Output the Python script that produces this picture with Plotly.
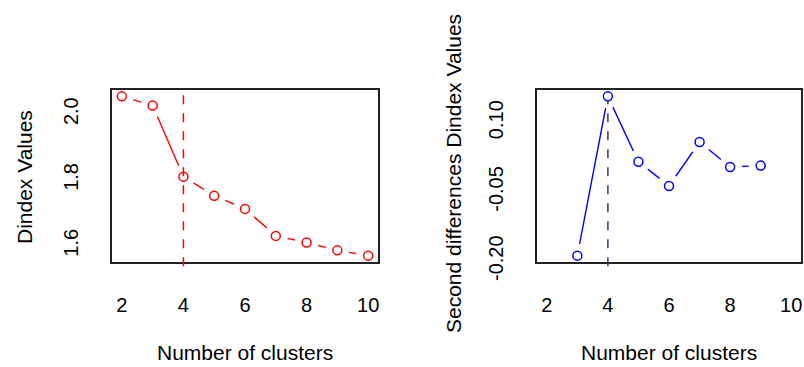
import plotly.graph_objects as go

# ---- data ----
clusters = [2, 3, 4, 5, 6, 7, 8, 9, 10]
dindex = [2.054, 2.026, 1.810, 1.752, 1.712, 1.630, 1.610, 1.586, 1.570]
clusters2 = [3, 4, 5, 6, 7, 8, 9]
second_diff = [-0.188, 0.157, 0.0155, -0.037, 0.058, 0.004, 0.007]
best_k = 4
best_k_value2 = 0.157

x_ticks = [2, 4, 6, 8, 10]
y1_ticks = [1.6, 1.8, 2.0]
y1_ticklabels = ["1.6", "1.8", "2.0"]
y2_ticks = [-0.20, -0.05, 0.10]
y2_ticklabels = ["-0.20", "-0.05", "0.10"]

x_title = "Number of clusters"
y1_title = "Dindex Values"
y2_title = "Second differences Dindex Values"

RED = "#FF0000"
BLUE = "#0000FF"
NAVY = "#2E3F5F"
FONT = "Liberation Sans, Arial, sans-serif"


def rrange(vals):
    lo, hi = min(vals), max(vals)
    pad = (hi - lo) * 0.04
    return [lo - pad, hi + pad]


xr = rrange(clusters)
y1r = rrange(dindex)
y2r = rrange(second_diff)

fig = go.Figure()


def add_b_series(xs, ys, color, xa, ya):
    fig.add_trace(go.Scatter(x=xs, y=ys, mode="lines", line=dict(color=color, width=1.4),
                             xaxis=xa, yaxis=ya, hoverinfo="skip", showlegend=False))
    fig.add_trace(go.Scatter(x=xs, y=ys, mode="markers",
                             marker=dict(symbol="circle", size=24, color="white",
                                         line=dict(width=0)),
                             xaxis=xa, yaxis=ya, hoverinfo="skip", showlegend=False))
    fig.add_trace(go.Scatter(x=xs, y=ys, mode="markers",
                             marker=dict(symbol="circle-open", size=9, color=color,
                                         line=dict(width=1.5, color=color)),
                             xaxis=xa, yaxis=ya, showlegend=False))


add_b_series(clusters, dindex, RED, "x", "y")
add_b_series(clusters2, second_diff, BLUE, "x2", "y2")

# vertical dashed reference lines
fx = (best_k - xr[0]) / (xr[1] - xr[0])
fig.add_shape(type="line", xref="x domain", yref="y domain", x0=fx, x1=fx, y0=-0.025, y1=1,
              line=dict(color=RED, width=1.5, dash="dash"), layer="above")
fy2 = (best_k_value2 - y2r[0]) / (y2r[1] - y2r[0])
fig.add_shape(type="line", xref="x2 domain", yref="y2 domain", x0=fx, x1=fx, y0=-0.025, y1=fy2 - 0.025,
              line=dict(color=NAVY, width=1.5, dash="dash"), layer="above")

W, H = 804, 367
dom_y = [(H - 262) / H, (H - 90) / H]
dom_x1 = [112 / W, 378 / W]
dom_x2 = [537 / W, 801 / W]

axis_common = dict(showgrid=False, zeroline=False, showline=True, mirror=True,
                   linecolor="#222222", linewidth=1.6, ticks="", automargin=False,
                   tickfont=dict(family=FONT, size=20, color="black"))

fig.update_layout(
    template="none",
    width=W, height=H,
    margin=dict(l=0, r=0, t=0, b=0, pad=0),
    paper_bgcolor="white", plot_bgcolor="white",
    showlegend=False,
    xaxis=dict(domain=dom_x1, range=xr, tickvals=x_ticks, ticklabelstandoff=24, anchor="y", **axis_common),
    yaxis=dict(domain=dom_y, range=y1r, tickvals=y1_ticks, ticktext=y1_ticklabels, tickangle=-90,
               ticklabelstandoff=24, anchor="x", **axis_common),
    xaxis2=dict(domain=dom_x2, range=xr, tickvals=x_ticks, ticklabelstandoff=24, anchor="y2", **axis_common),
    yaxis2=dict(domain=dom_y, range=y2r, tickvals=y2_ticks, ticktext=y2_ticklabels, tickangle=-90,
                ticklabelstandoff=24, anchor="x2", **axis_common),
)

title_font = dict(family=FONT, size=21, color="black")
for xc in [(dom_x1[0] + dom_x1[1]) / 2, (dom_x2[0] + dom_x2[1]) / 2]:
    fig.add_annotation(text=x_title, xref="paper", yref="paper", x=xc, y=(H - 352) / H,
                       showarrow=False, font=title_font, xanchor="center", yanchor="middle")
fig.add_annotation(text=y1_title, xref="paper", yref="paper", x=24 / W, y=(H - 177) / H,
                   textangle=-90, showarrow=False, font=title_font, xanchor="center", yanchor="middle")
fig.add_annotation(text=y2_title, xref="paper", yref="paper", x=453 / W, y=(H - 174) / H,
                   textangle=-90, showarrow=False, font=title_font, xanchor="center", yanchor="middle")

fig.write_html("out.html", config={"displayModeBar": False},
               post_script="document.body.style.margin='0';document.body.style.overflow='hidden';")
